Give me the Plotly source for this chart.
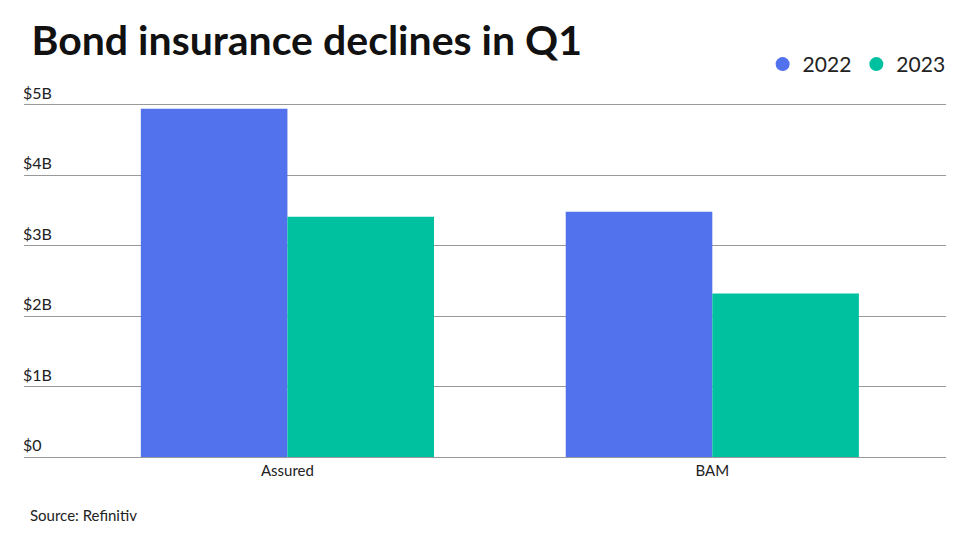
import plotly.graph_objects as go

categories = ["Assured", "BAM"]
v2022 = [4.94, 3.48]
v2023 = [3.41, 2.32]
tickvals = [0, 1, 2, 3, 4, 5]
ticktext = ["$0", "$1B", "$2B", "$3B", "$4B", "$5B"]
c22, c23 = "#5271ec", "#00c19f"

fig = go.Figure()
fig.add_bar(x=categories, y=v2022, name="2022", marker_color=c22, marker_line_width=0, showlegend=False)
fig.add_bar(x=categories, y=v2023, name="2023", marker_color=c23, marker_line_width=0, showlegend=False)
for nm, c in (("2022", c22), ("2023", c23)):
    fig.add_scatter(x=[None], y=[None], mode="markers", name=nm,
                    marker=dict(symbol="circle", size=14, color=c))

annotations = [dict(text=t, x=0, xref="paper", xanchor="left", xshift=-3,
                    y=v, yref="y", yanchor="bottom", yshift=1, showarrow=False,
                    font=dict(size=16, color="#222"))
               for v, t in zip(tickvals, ticktext)]
annotations.append(dict(text="Source: Refinitiv", x=0, xref="paper", xanchor="left", xshift=4,
                        y=-0.16, yref="paper", yanchor="middle", showarrow=False,
                        font=dict(size=15)))

fig.update_layout(
    width=978, height=550,
    font=dict(family="Lato", size=15, color="#222"),
    paper_bgcolor="white", plot_bgcolor="white",
    margin=dict(l=16, r=40, t=86, b=101),
    barmode="group", bargap=0.31, bargroupgap=0,
    title=dict(text="<b>Bond insurance declines in Q1</b>", x=0.024, xanchor="left",
               y=0.94, yanchor="middle", font=dict(size=41, color="#111")),
    legend=dict(orientation="h", x=1.005, xanchor="right", y=1.025, yanchor="bottom",
                font=dict(size=21), itemwidth=30),
    xaxis=dict(range=[-0.62, 1.55], showgrid=False, ticks="", showline=True,
               linecolor="#999", linewidth=1),
    yaxis=dict(range=[0, 5.15], tickvals=tickvals, showticklabels=False,
               gridcolor="#999", gridwidth=1, zeroline=False),
    annotations=annotations,
)
fig.write_html("out.html")
